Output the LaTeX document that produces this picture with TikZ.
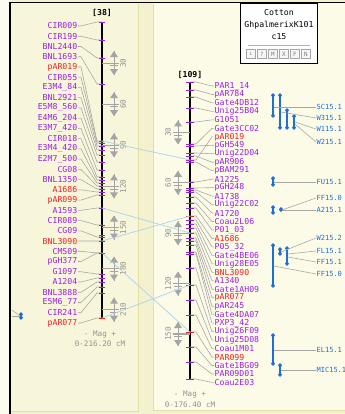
\documentclass[tikz,border=0pt]{standalone}
\usepackage{fontspec}
\setmonofont{DejaVu Sans Mono}
\usetikzlibrary{arrows.meta,positioning}
\definecolor{fiolet}{HTML}{9A1FE6}
\definecolor{czerw}{HTML}{F22020}
\definecolor{niebieski}{HTML}{1C6FD6}
\definecolor{blekit}{HTML}{A8D4EC}
\definecolor{szary}{HTML}{A4A4A4}
\definecolor{tlo}{HTML}{F4F1CE}
\definecolor{tlolewe}{HTML}{F8F6DA}
\definecolor{tlojasne}{HTML}{FCFBE8}
\definecolor{ramka}{HTML}{E2DEA6}
\tikzset{
  etykieta/.style = {font=\fontsize{7}{8}\selectfont\ttfamily, inner sep=0.4pt, text=fiolet},
  qtlnazwa/.style = {font=\fontsize{6}{7}\selectfont\ttfamily, inner sep=0.3pt,
                     text=niebieski, anchor=west},
  tytul/.style    = {font=\fontsize{7}{8}\selectfont\ttfamily\bfseries, inner sep=0.5pt},
  podpis/.style   = {font=\fontsize{6.5}{7}\selectfont\ttfamily, text=gray!85, inner sep=0.5pt},
  os/.style       = {line width=1.8pt, black},
  kreska/.style   = {draw=fiolet, line width=0.7pt},
  laczenie/.style = {draw=gray!70, line width=0.5pt},
  link/.style     = {draw=blekit, line width=0.6pt},
  qtl/.style      = {draw=niebieski, line width=1pt,
                     {Diamond[length=4pt,width=3.5pt]}-{Diamond[length=4pt,width=3.5pt]}},
  przycisk/.style = {draw=gray!70, fill=gray!8, minimum width=2.6mm, minimum height=2.8mm,
                     inner sep=0pt, font=\fontsize{5}{5}\selectfont\ttfamily, text=gray},
}

\begin{document}
\begin{tikzpicture}[x=0.3mm, y=-0.3mm]
  \useasboundingbox (0,0) rectangle (345,414);
  \clip (0,0) rectangle (345,414);

  % tla i ramki
  \fill[tlo] (0,0) rectangle (345,414);
  \fill[white!60!tlolewe] (0,0) rectangle (10,414);
  \fill[tlolewe] (10,3) rectangle (138,411);
  \fill[tlojasne] (153,3) rectangle (345,410);
  \draw[ramka] (138,4) -- (138,411) -- (10,411);
  \draw[ramka] (153,4) -- (153,410) -- (345,410);
  \draw[black, line width=1.6pt] (10,414) -- (10,2.5) -- (345,2.5);

  % okienko z opisem
  \draw[black, fill=white, line width=0.6pt] (240,3) rectangle (317,63);
  \node[etykieta, text=black] (gat)  at (279,13) {Cotton};
  \node[etykieta, text=black] (mapa) at (279,25) {GhpalmerixK101};
  \node[etykieta, text=black] (chr)  at (279,37) {c15};
  \draw[gray!60] (248,45) -- (310,45);
  \foreach \z [count=\k] in {↓,?,M,X,F,N}
    \node[przycisk] (p\k) at (251+11*\k-11,54) {\z};

  % mapa lewa [38]
  \node[tytul] (tl) at (102,13) {[38]};
  \draw[os] (102,22) -- (102,318);
  \foreach \nazwa/\t/\kol [count=\i] in {CIR009/22/fiolet, CIR199/40/fiolet,
      BNL2440/58/fiolet, BNL1693/84/fiolet, pAR019/141/czerw, CIR055/143/fiolet,
      E3M4\_84/146/fiolet, BNL2921/150/fiolet, E5M8\_560/155/fiolet,
      E4M6\_204/162/fiolet, E3M7\_420/170/fiolet, CIR018/177/fiolet,
      E3M4\_420/180/fiolet, E2M7\_500/183/fiolet, CG08/186/fiolet,
      BNL1350/189/fiolet, A1686/192/czerw, pAR099/195/czerw, A1593/208/fiolet,
      CIR089/225/fiolet, CG09/237/fiolet, BNL3090/241/czerw, CMS09/253/fiolet,
      pGH377/253/fiolet, G1097/274/fiolet, A1204/278/fiolet, BNL3888/282/fiolet,
      E5M6\_77/287/fiolet, CIR241/293/fiolet, pAR077/318/czerw}{
    \pgfmathsetmacro\yl{26+10.24*(\i-1)}
    \node[etykieta, text=\kol, anchor=east] (l\i) at (78,\yl) {\nazwa};
    \coordinate (lt\i) at (102,\t);
    \draw[laczenie] (l\i.east) -- ++(3,0) -- ([xshift=-1.5mm]lt\i) -- (lt\i);
    \draw[kreska] (99,\t) -- (105,\t);
  }
  \foreach \t in {141,235,253,318}
    \draw[kreska, draw=czerw] (99,\t) -- (105,\t);

  % skala lewa
  \foreach \w in {30,60,...,210}{
    \pgfmathsetmacro\ys{22+1.37*\w}
    \draw[szary, line width=0.9pt] (102,\ys) -- (119,\ys);
    \draw[szary, line width=0.5pt] (110,\ys+2.5) -- (118,\ys+2.5);
    \draw[szary, line width=0.8pt] (114,\ys-12) -- (114,\ys+12);
    \fill[szary] (110,\ys-6) -- (114,\ys-12) -- (118,\ys-6) -- cycle;
    \fill[szary] (110,\ys+6) -- (114,\ys+12) -- (118,\ys+6) -- cycle;
    \node[podpis, rotate=90] (skL\w) at (123,\ys) {\w};
  }
  \node[podpis] (magl) at (100,335) {- Mag +};
  \node[podpis] (zakl) at (100,344) {0-216.20 cM};

  % mapa srodkowa [109]
  \node[tytul] (ts) at (190,75) {[109]};
  \draw[os] (190,82) -- (190,379);
  \foreach \nazwa/\t/\kol [count=\i] in {PAR1\_14/82/fiolet, pAR784/90/fiolet,
      Gate4DB12/97/fiolet, Unig25B04/108/fiolet, G1051/122/fiolet,
      Gate3CC02/144/fiolet, pAR019/160/czerw, pGH549/146/fiolet,
      Unig22D04/153/fiolet, pAR906/156/fiolet, pBAM291/162/fiolet,
      A1225/182/fiolet, pGH248/188/fiolet, A1738/190/fiolet,
      Unig22C02/192/fiolet, A1720/197/fiolet, Coau2L06/203/fiolet,
      P01\_03/208/fiolet, A1686/216/czerw, P05\_32/220/fiolet,
      Gate4BE06/224/fiolet, Unig28E05/228/fiolet, BNL3090/233/czerw,
      A1340/238/fiolet, Gate1AH09/241/fiolet, pAR077/245/czerw,
      pAR245/252/fiolet, Gate4DA07/254/fiolet, PXP3\_42/268/fiolet,
      Unig26F09/285/fiolet, Unig25D08/300/fiolet, Coau1M01/315/fiolet,
      PAR099/332/czerw, Gate1BG09/347/fiolet, PAR09D01/362/fiolet,
      Coau2E03/379/fiolet}{
    \pgfmathsetmacro\yl{86+8.47*(\i-1)}
    \node[etykieta, text=\kol, anchor=west] (m\i) at (214,\yl) {\nazwa};
    \coordinate (mt\i) at (190,\t);
    \draw[laczenie] (m\i.west) -- ++(-2,0) -- ([xshift=1.8mm]mt\i) -- (mt\i);
    \draw[kreska] (186,\t) -- (194,\t);
  }
  \foreach \t in {216,233,245,332}
    \draw[kreska, draw=czerw] (186,\t) -- (194,\t);

  % skala srodkowa
  \foreach \w in {30,60,...,150}{
    \pgfmathsetmacro\ys{82+1.68*\w}
    \draw[szary, line width=0.9pt] (190,\ys) -- (173,\ys);
    \draw[szary, line width=0.5pt] (174,\ys+2.5) -- (182,\ys+2.5);
    \draw[szary, line width=0.8pt] (178,\ys-12) -- (178,\ys+12);
    \fill[szary] (174,\ys-6) -- (178,\ys-12) -- (182,\ys-6) -- cycle;
    \fill[szary] (174,\ys+6) -- (178,\ys+12) -- (182,\ys+6) -- cycle;
    \node[podpis, rotate=90] (skS\w) at (168,\ys) {\w};
  }
  \node[podpis] (mags) at (190,395) {- Mag +};
  \node[podpis] (zaks) at (190,405) {0-176.40 cM};

  % powiazania miedzy mapami
  \draw[link] (lt5) -- (mt7);
  \draw[link] (lt19) -- (mt23);
  \draw[link] (lt22) -- (mt19);
  \draw[link] (lt23) -- (mt33);
  \draw[link] (lt30) -- (mt30);

  % QTL po prawej
  \draw[qtl] (273,93) -- (273,118);
  \draw[qtl] (280,93) -- (280,130);
  \draw[qtl] (287,108) -- (287,130);
  \draw[qtl] (294,114) -- (294,130);
  \coordinate (q1) at (274,107);
  \coordinate (q2) at (281,112);
  \coordinate (q3) at (295,122);
  \coordinate (q4) at (295,124);
  \node[qtlnazwa] (sc)   at (316,107) {SC15.1};
  \node[qtlnazwa] (w315) at (316,118) {W315.1};
  \node[qtlnazwa] (w115) at (316,129) {W115.1};
  \node[qtlnazwa] (w215) at (316,142) {W215.1};
  \draw[laczenie] (q1) -- (sc.west);
  \draw[laczenie] (q2) -- (w315.west);
  \draw[laczenie] (q3) -- (w115.west);
  \draw[laczenie] (q4) -- (w215.west);

  \draw[qtl] (273,176) -- (273,187);
  \coordinate (q5) at (274,182);
  \node[qtlnazwa] (fu) at (316,182) {FU15.1};
  \draw[laczenie] (q5) -- (fu.west);

  \draw[qtl] (273,205) -- (273,215);
  \draw[qtl] (281,207) -- (281,212);
  \coordinate (q6) at (282,210);
  \node[qtlnazwa] (ff0) at (316,198) {FF15.0};
  \node[qtlnazwa] (a215) at (316,210) {A215.1};
  \draw[laczenie] (q6) -- (ff0.west);
  \draw[laczenie] (q6) -- (a215.west);

  \draw[qtl] (273,243) -- (273,288);
  \draw[qtl] (280,247) -- (280,256);
  \draw[qtl] (287,246) -- (287,266);
  \coordinate (q7) at (281,252);
  \coordinate (q8) at (288,254);
  \coordinate (q9) at (288,257);
  \coordinate (q10) at (274,266);
  \node[qtlnazwa] (w2152) at (316,238) {W215.2};
  \node[qtlnazwa] (fl)    at (316,251) {FL15.1};
  \node[qtlnazwa] (ff1)   at (316,262) {FF15.1};
  \node[qtlnazwa] (ff0b)  at (316,274) {FF15.0};
  \draw[laczenie] (q7) -- (w2152.west);
  \draw[laczenie] (q8) -- (fl.west);
  \draw[laczenie] (q9) -- (ff1.west);
  \draw[laczenie] (q10) -- (ff0b.west);

  \draw[qtl] (273,333) -- (273,366);
  \draw[qtl] (280,363) -- (280,377);
  \coordinate (q11) at (274,350);
  \coordinate (q12) at (281,370);
  \node[qtlnazwa] (el)  at (316,350) {EL15.1};
  \node[qtlnazwa] (mic) at (316,370) {MIC15.1};
  \draw[laczenie] (q11) -- (el.west);
  \draw[laczenie] (q12) -- (mic.west);

  % fragment QTL przy lewej krawedzi
  \draw[qtl] (21,312) -- (21,320);
  \coordinate (q13) at (20,316);
  \draw[laczenie] (12,310) -- (q13);
  \draw[laczenie] (12,316) -- (q13);
\end{tikzpicture}
\end{document}
